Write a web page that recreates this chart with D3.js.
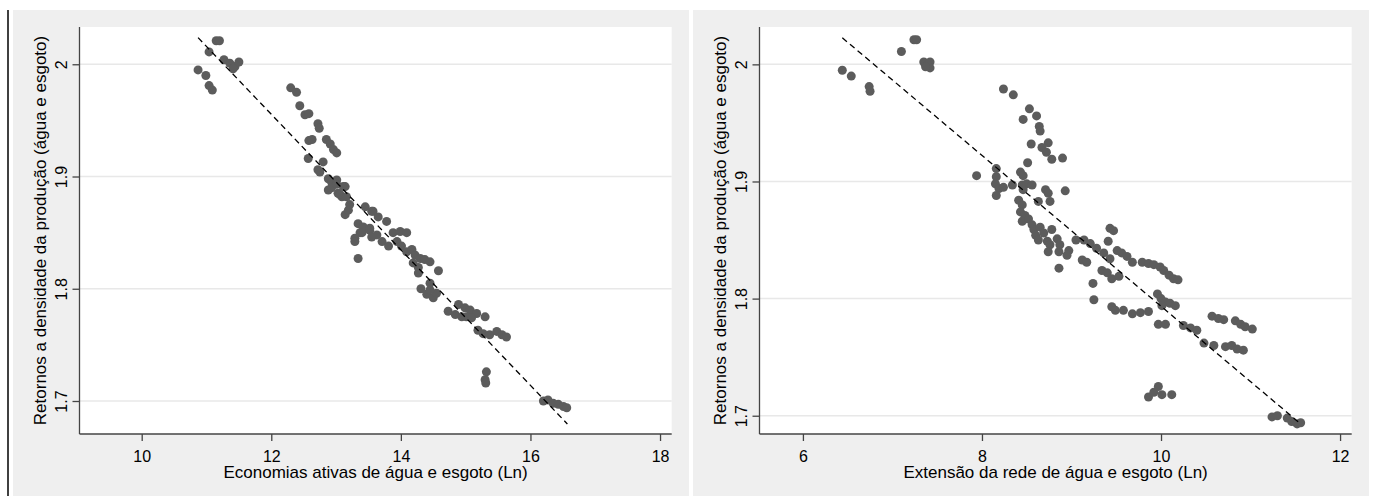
<!DOCTYPE html>
<html>
<head>
<meta charset="utf-8">
<script src="https://cdn.jsdelivr.net/npm/d3@7"></script>
<style>
  body { margin: 0; background: #fff; }
  svg { display: block; font-family: "Liberation Sans", Arial, sans-serif; }
</style>
</head>
<body>
<div id="chart"></div>
<script>
// Shared y ticks and titles
const yTicks = [1.7, 1.8, 1.9, 2];
const yTitle = "Retornos a densidade da produção (água e esgoto)";

// Left panel: economias ativas (Ln)
const leftTitle = "Economias ativas de água e esgoto (Ln)";
const leftTicks = [10, 12, 14, 16, 18];
const leftDomainX = [9.04, 18.18];
const leftDomainY = [1.6706, 2.0332];
const leftFit = [[10.87, 2.0237], [16.57, 1.6795]];
const leftPoints = [
  [11.15, 2.021], [11.2, 2.021], [11.04, 2.011], [11.27, 2.004], [11.36, 2.001], [11.44, 1.998],
  [11.50, 2.002], [11.41, 1.996], [10.87, 1.995], [10.99, 1.990], [11.04, 1.981], [11.09, 1.977],
  [12.30, 1.979], [12.39, 1.975], [12.44, 1.963], [12.52, 1.955], [12.58, 1.956], [12.72, 1.947],
  [12.74, 1.943], [12.58, 1.932], [12.63, 1.933], [12.85, 1.933], [12.91, 1.929], [12.96, 1.924],
  [13.01, 1.921], [12.57, 1.916], [12.80, 1.913], [12.72, 1.906], [12.75, 1.904], [12.88, 1.898],
  [12.93, 1.895], [13.01, 1.897], [12.88, 1.888], [12.93, 1.890], [13.03, 1.885], [13.09, 1.882],
  [13.14, 1.891], [13.21, 1.875], [13.14, 1.866], [13.45, 1.873], [13.57, 1.869], [13.65, 1.864],
  [13.34, 1.858], [13.42, 1.855], [13.52, 1.854], [13.29, 1.845], [13.37, 1.850],
  [13.01, 1.893], [13.11, 1.891], [13.06, 1.884], [13.16, 1.882], [13.19, 1.870],
  [13.55, 1.869], [13.78, 1.860], [13.40, 1.850], [13.52, 1.852], [13.55, 1.846], [13.29, 1.842],
  [13.34, 1.827], [13.63, 1.848], [13.71, 1.842], [13.81, 1.838], [13.88, 1.850], [13.99, 1.851],
  [14.09, 1.850], [13.94, 1.842], [14.01, 1.838], [14.09, 1.833], [14.17, 1.835], [14.22, 1.830],
  [14.30, 1.827], [14.37, 1.826], [14.45, 1.824], [14.19, 1.823], [14.27, 1.819], [14.58, 1.816],
  [14.27, 1.814], [14.31, 1.800], [14.45, 1.805], [14.40, 1.795], [14.50, 1.792], [14.55, 1.796],
  [14.45, 1.799], [14.73, 1.780], [14.84, 1.777], [14.94, 1.775], [14.89, 1.786], [14.99, 1.783],
  [15.07, 1.781], [15.17, 1.778], [15.30, 1.775], [15.01, 1.775], [15.09, 1.774], [15.19, 1.763],
  [15.27, 1.760], [15.37, 1.759], [15.48, 1.762], [15.56, 1.759], [15.63, 1.757], [15.32, 1.726],
  [15.30, 1.719], [15.31, 1.716], [16.20, 1.700], [16.27, 1.701], [16.35, 1.698], [16.43, 1.697],
  [16.51, 1.695], [16.56, 1.694]
];

// Right panel: extensao da rede (Ln)
const rightTitle = "Extensão da rede de água e esgoto (Ln)";
const rightTicks = [6, 8, 10, 12];
const rightDomainX = [5.515, 12.13];
const rightDomainY = [1.6844, 2.0319];
const rightFit = [[6.44, 2.0227], [11.545, 1.694]];
const rightPoints = [
  [7.24, 2.021], [7.27, 2.021], [7.10, 2.011], [7.35, 2.002], [7.39, 1.999], [7.42, 2.002],
  [7.42, 1.997], [7.37, 1.998], [6.44, 1.995], [6.54, 1.990], [6.74, 1.981], [6.75, 1.977],
  [8.24, 1.979], [8.35, 1.974], [8.53, 1.962], [8.61, 1.956], [8.46, 1.953], [8.64, 1.947],
  [8.65, 1.943], [8.55, 1.932], [8.74, 1.933], [8.67, 1.929], [8.72, 1.925], [8.78, 1.919],
  [8.90, 1.920], [8.51, 1.916], [8.43, 1.908], [8.46, 1.905], [8.16, 1.911], [7.94, 1.905],
  [8.16, 1.904], [8.15, 1.898], [8.19, 1.894], [8.16, 1.888], [8.24, 1.895], [8.34, 1.897],
  [8.45, 1.897], [8.50, 1.898], [8.56, 1.897], [8.46, 1.893], [8.71, 1.893], [8.74, 1.890],
  [8.93, 1.892], [8.63, 1.883], [8.76, 1.883], [8.41, 1.884], [8.45, 1.880], [8.43, 1.874],
  [8.48, 1.871], [8.45, 1.866], [8.52, 1.868], [8.56, 1.863], [8.58, 1.859], [8.65, 1.861],
  [8.60, 1.854], [8.69, 1.856], [8.63, 1.850], [8.73, 1.849], [8.78, 1.859], [8.84, 1.851],
  [8.76, 1.846], [8.87, 1.846], [8.97, 1.841], [8.86, 1.840], [8.95, 1.837], [8.74, 1.840],
  [8.86, 1.826], [9.05, 1.850], [9.12, 1.833], [9.17, 1.831], [9.14, 1.850], [9.21, 1.847],
  [9.28, 1.843], [9.36, 1.839], [9.43, 1.834], [9.43, 1.860], [9.47, 1.858], [9.41, 1.849],
  [9.51, 1.841], [9.56, 1.839], [9.62, 1.836], [9.68, 1.831], [9.34, 1.824], [9.40, 1.822],
  [9.45, 1.817], [9.53, 1.819], [9.24, 1.813], [9.25, 1.799], [9.45, 1.793], [9.49, 1.790],
  [9.58, 1.790], [9.68, 1.787], [9.77, 1.788], [9.86, 1.789], [9.79, 1.831], [9.86, 1.830],
  [9.92, 1.829], [9.99, 1.827], [10.03, 1.824], [10.09, 1.820], [10.14, 1.817], [10.19, 1.816],
  [9.96, 1.804], [10.00, 1.800], [10.05, 1.797], [10.10, 1.796], [10.16, 1.794], [10.01, 1.794],
  [9.97, 1.778], [10.05, 1.778], [10.25, 1.777], [10.33, 1.775], [10.40, 1.773], [10.48, 1.762],
  [10.59, 1.760], [10.57, 1.785], [10.64, 1.783], [10.70, 1.782], [10.72, 1.759], [10.79, 1.760],
  [10.85, 1.757], [10.92, 1.756], [10.83, 1.781], [10.89, 1.778], [10.94, 1.776], [11.02, 1.774],
  [9.86, 1.716], [9.92, 1.720], [9.97, 1.725], [10.01, 1.718], [10.12, 1.718], [11.24, 1.699],
  [11.30, 1.700], [11.41, 1.698], [11.46, 1.695], [11.52, 1.693], [11.56, 1.694]
];

const width = 1374, height = 496;
const svg = d3.select("#chart").append("svg")
  .attr("width", width)
  .attr("height", height);

// thin black rule at the far left
svg.append("line")
  .attr("x1", 8).attr("x2", 8).attr("y1", 10).attr("y2", height)
  .attr("stroke", "#000").attr("stroke-width", 1.5);

function drawPanel(offset, points, fit, xTicks, domX, domY, xTitle) {
  const g = svg.append("g").attr("transform", `translate(${offset},0)`);

  // graph region
  g.append("rect")
    .attr("x", 13).attr("y", 10)
    .attr("width", 676).attr("height", height - 10)
    .attr("fill", "#efefef");

  const left = 79.5, right = 671.7, top = 27, bottom = 434;
  g.append("rect")
    .attr("x", left).attr("y", top)
    .attr("width", right - left).attr("height", bottom - top)
    .attr("fill", "#fff");

  const x = d3.scaleLinear().domain(domX).range([left, right]);
  const y = d3.scaleLinear().domain(domY).range([bottom, top]);

  // gridlines
  g.append("g").selectAll("line")
    .data(yTicks)
    .join("line")
    .attr("x1", left).attr("x2", right)
    .attr("y1", d => y(d)).attr("y2", d => y(d))
    .attr("stroke", "#e8e8e8").attr("stroke-width", 1.5);

  // points
  g.append("g").selectAll("circle")
    .data(points)
    .join("circle")
    .attr("cx", d => x(d[0]))
    .attr("cy", d => y(d[1]))
    .attr("r", 4.5)
    .attr("fill", "#5c5c5c");

  // fitted line
  g.append("path")
    .datum(fit)
    .attr("d", d3.line().x(d => x(d[0])).y(d => y(d[1])))
    .attr("fill", "none")
    .attr("stroke", "#000")
    .attr("stroke-width", 1.3)
    .attr("stroke-dasharray", "6,4");

  // y axis
  const yAxis = g.append("g")
    .attr("transform", `translate(${left},0)`)
    .call(d3.axisLeft(y).tickValues(yTicks).tickSize(7).tickSizeOuter(0).tickFormat(d => String(d)));
  yAxis.select(".domain").attr("d", `M0,${top}V${bottom}`);
  yAxis.selectAll("text")
    .attr("transform", "rotate(-90)")
    .attr("x", 0).attr("y", -12.5).attr("dy", 0)
    .attr("text-anchor", "middle")
    .style("font-size", "16px").attr("fill", "#000");

  // x axis
  const xAxis = g.append("g")
    .attr("transform", `translate(0,${bottom})`)
    .call(d3.axisBottom(x).tickValues(xTicks).tickSize(7).tickSizeOuter(0).tickFormat(d => String(d)));
  xAxis.select(".domain").attr("d", `M${left},0H${right}`);
  xAxis.selectAll("text")
    .attr("y", 27.5).attr("dy", 0)
    .style("font-size", "16px").attr("fill", "#000");

  [yAxis, xAxis].forEach(a => {
    a.select(".domain").attr("stroke", "#444").attr("stroke-width", 1.3);
    a.selectAll(".tick line").attr("stroke", "#444").attr("stroke-width", 1.3);
  });

  // titles
  g.append("text")
    .attr("x", (left + right) / 2)
    .attr("y", 477.5)
    .attr("text-anchor", "middle")
    .style("font-size", "17px")
    .text(xTitle);

  g.append("text")
    .attr("transform", `translate(46,${(top + bottom) / 2}) rotate(-90)`)
    .attr("text-anchor", "middle")
    .style("font-size", "17px")
    .text(yTitle);
}

drawPanel(0, leftPoints, leftFit, leftTicks, leftDomainX, leftDomainY, leftTitle);
drawPanel(680, rightPoints, rightFit, rightTicks, rightDomainX, rightDomainY, rightTitle);
</script>
</body>
</html>
